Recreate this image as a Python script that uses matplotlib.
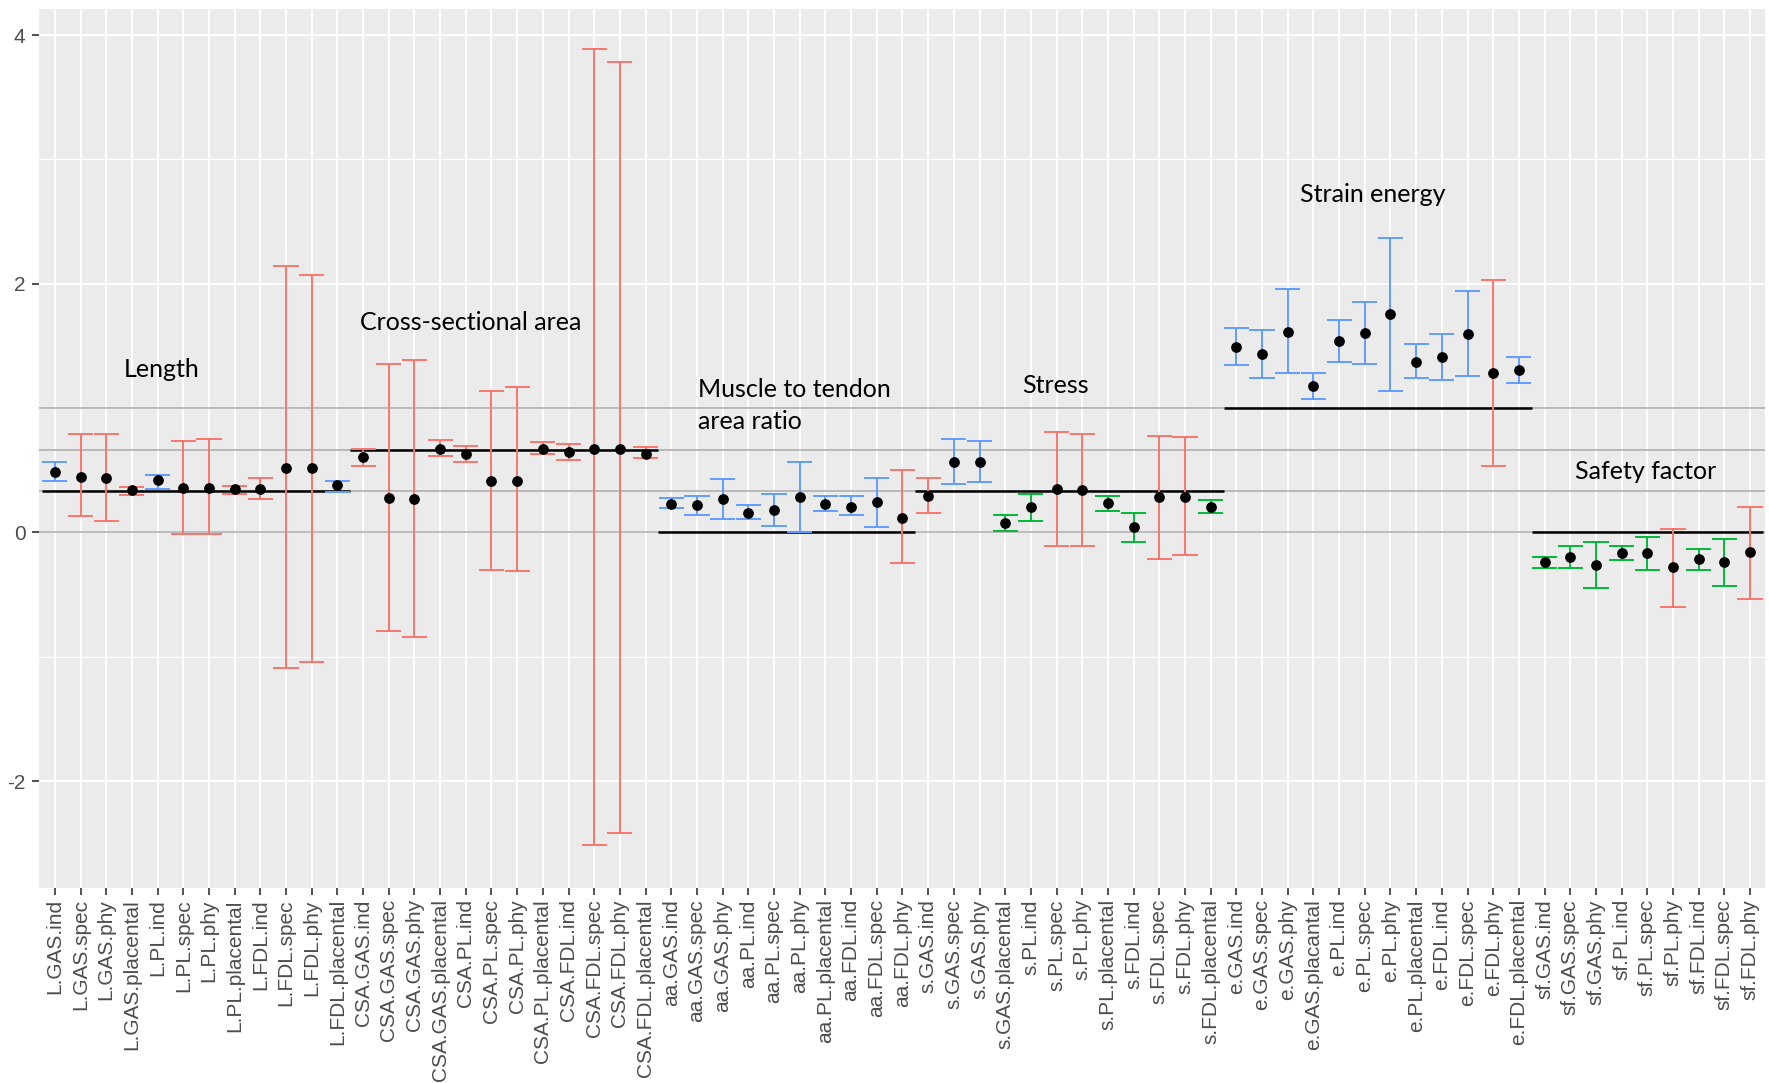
import matplotlib
matplotlib.use("Agg")
import matplotlib.pyplot as plt
import numpy as np

labels = [
    "L.GAS.ind", "L.GAS.spec", "L.GAS.phy", "L.GAS.placental", "L.PL.ind", "L.PL.spec",
    "L.PL.phy", "L.PL.placental", "L.FDL.ind", "L.FDL.spec", "L.FDL.phy", "L.FDL.placental",
    "CSA.GAS.ind", "CSA.GAS.spec", "CSA.GAS.phy", "CSA.GAS.placental", "CSA.PL.ind", "CSA.PL.spec",
    "CSA.PL.phy", "CSA.PL.placental", "CSA.FDL.ind", "CSA.FDL.spec", "CSA.FDL.phy", "CSA.FDL.placental",
    "aa.GAS.ind", "aa.GAS.spec", "aa.GAS.phy", "aa.PL.ind", "aa.PL.spec", "aa.PL.phy",
    "aa.PL.placental", "aa.FDL.ind", "aa.FDL.spec", "aa.FDL.phy",
    "s.GAS.ind", "s.GAS.spec", "s.GAS.phy", "s.GAS.placental", "s.PL.ind", "s.PL.spec",
    "s.PL.phy", "s.PL.placental", "s.FDL.ind", "s.FDL.spec", "s.FDL.phy", "s.FDL.placental",
    "e.GAS.ind", "e.GAS.spec", "e.GAS.phy", "e.GAS.placantal", "e.PL.ind", "e.PL.spec",
    "e.PL.phy", "e.PL.placental", "e.FDL.ind", "e.FDL.spec", "e.FDL.phy", "e.FDL.placental",
    "sf.GAS.ind", "sf.GAS.spec", "sf.GAS.phy", "sf.PL.ind", "sf.PL.spec", "sf.PL.phy",
    "sf.FDL.ind", "sf.FDL.spec", "sf.FDL.phy",
]

estimate = [
    0.49, 0.45, 0.44, 0.34, 0.42, 0.36, 0.36, 0.35, 0.35, 0.52, 0.52, 0.38,
    0.61, 0.28, 0.27, 0.675, 0.63, 0.41, 0.41, 0.675, 0.645, 0.672, 0.672, 0.632,
    0.23, 0.22, 0.27, 0.155, 0.18, 0.285, 0.23, 0.207, 0.244, 0.115,
    0.296, 0.568, 0.568, 0.08, 0.207, 0.35, 0.34, 0.233, 0.04, 0.284, 0.284, 0.207,
    1.493, 1.436, 1.616, 1.177, 1.542, 1.605, 1.76, 1.369, 1.413, 1.593, 1.28, 1.306,
    -0.234, -0.199, -0.261, -0.169, -0.169, -0.274, -0.21, -0.234, -0.156,
]

lower = [
    0.413, 0.129, 0.089, 0.30, 0.35, -0.009, -0.009, 0.31, 0.273, -1.089, -1.04, 0.324,
    0.531, -0.793, -0.844, 0.612, 0.568, -0.301, -0.312, 0.632, 0.583, -2.516, -2.417, 0.597,
    0.195, 0.144, 0.106, 0.106, 0.052, 0.0, 0.169, 0.144, 0.04, -0.247,
    0.155, 0.388, 0.402, 0.014, 0.092, -0.11, -0.11, 0.169, -0.075, -0.212, -0.18, 0.155,
    1.344, 1.243, 1.28, 1.077, 1.369, 1.358, 1.14, 1.243, 1.229, 1.255, 0.531, 1.203,
    -0.288, -0.288, -0.444, -0.223, -0.301, -0.597, -0.301, -0.43, -0.535,
]

upper = [
    0.568, 0.79, 0.79, 0.362, 0.465, 0.738, 0.752, 0.376, 0.439, 2.139, 2.07, 0.416,
    0.669, 1.358, 1.384, 0.741, 0.698, 1.14, 1.166, 0.724, 0.712, 3.885, 3.78, 0.689,
    0.278, 0.296, 0.431, 0.221, 0.31, 0.566, 0.296, 0.296, 0.439, 0.502,
    0.439, 0.749, 0.738, 0.144, 0.31, 0.804, 0.79, 0.296, 0.155, 0.775, 0.77, 0.258,
    1.645, 1.631, 1.955, 1.28, 1.708, 1.852, 2.372, 1.516, 1.593, 1.941, 2.033, 1.413,
    -0.194, -0.105, -0.078, -0.105, -0.034, 0.029, -0.132, -0.049, 0.207,
]

# colour class of each interval: r = red, b = blue, g = green
ci_class = (
    "brrrbrrrrrrb"
    "rrrrrrrrrrrr"
    "bbbbbbbbbr"
    "rbbggrrggrrg"
    "bbbbbbbbbbrb"
    "gggggrggr"
)

group_names = ["Length", "Cross-sectional area", "Muscle to tendon\narea ratio",
               "Stress", "Strain energy", "Safety factor"]
group_sizes = [12, 12, 10, 12, 12, 9]
group_expected = [1 / 3, 2 / 3, 0, 1 / 3, 1, 0]
reference_levels = [0, 1 / 3, 2 / 3, 1]

palette = {"r": "#F8766D", "b": "#619CFF", "g": "#00BA38"}

fig = plt.figure(figsize=(17.69, 10.83), dpi=100)
ax = fig.add_axes([0.0223, 0.180, 0.9757, 0.8117])
ax.set_facecolor("#EBEBEB")

n = len(labels)
x = np.arange(1, n + 1)
ax.set_xlim(0.4, n + 0.6)
ax.set_ylim(-2.86, 4.21)

# grid
for yy in [-2, 0, 2, 4]:
    ax.axhline(yy, color="white", lw=1.4, zorder=0.5)
for yy in [-1, 1, 3]:
    ax.axhline(yy, color="white", lw=0.8, zorder=0.5)
for xx in x:
    ax.axvline(xx, color="white", lw=1.4, zorder=0.5)

# reference levels
for lv in reference_levels:
    ax.axhline(lv, color="#B0B0B0", lw=1.2, zorder=1)

# expected values per group
start = 0.5
for size, ev in zip(group_sizes, group_expected):
    ax.plot([start, start + size], [ev, ev], color="black", lw=1.8, zorder=2,
            solid_capstyle="butt")
    start += size

# error bars
est = np.array(estimate)
lo = np.array(lower)
hi = np.array(upper)
for i in range(n):
    c = palette[ci_class[i]]
    ax.plot([x[i], x[i]], [lo[i], hi[i]], color=c, lw=1.4, zorder=3)
    ax.plot([x[i] - 0.45, x[i] + 0.45], [lo[i], lo[i]], color=c, lw=1.4, zorder=3)
    ax.plot([x[i] - 0.45, x[i] + 0.45], [hi[i], hi[i]], color=c, lw=1.4, zorder=3)

ax.scatter(x, est, s=45, color="black", zorder=4)

# group annotations
ann_font = ["Lato", "DejaVu Sans"]
ax.text(5.15, 1.31, group_names[0], fontsize=18, family=ann_font, ha="center", va="center")
ax.text(17.2, 1.69, group_names[1], fontsize=18, family=ann_font, ha="center", va="center")
ax.text(26.05, 1.02, group_names[2], fontsize=18, family=ann_font, ha="left", va="center",
        linespacing=1.45)
ax.text(39.97, 1.18, group_names[3], fontsize=18, family=ann_font, ha="center", va="center")
ax.text(52.3, 2.72, group_names[4], fontsize=18, family=ann_font, ha="center", va="center")
ax.text(62.95, 0.49, group_names[5], fontsize=18, family=ann_font, ha="center", va="center")

ax.set_xticks(x)
ax.set_xticklabels(labels, rotation=90, fontsize=15, color="#4D4D4D",
                   family=["Liberation Sans", "DejaVu Sans"])
ax.set_yticks([-2, 0, 2, 4])
ax.set_yticklabels(["-2", "0", "2", "4"], fontsize=15, color="#4D4D4D",
                   family=["Liberation Sans", "DejaVu Sans"])
ax.tick_params(axis="both", length=5, width=1.2, color="#333333")
ax.tick_params(axis="y", pad=5)
ax.tick_params(axis="x", pad=3)
for sp in ax.spines.values():
    sp.set_visible(False)

fig.savefig("out.png", dpi=100, facecolor="white")
